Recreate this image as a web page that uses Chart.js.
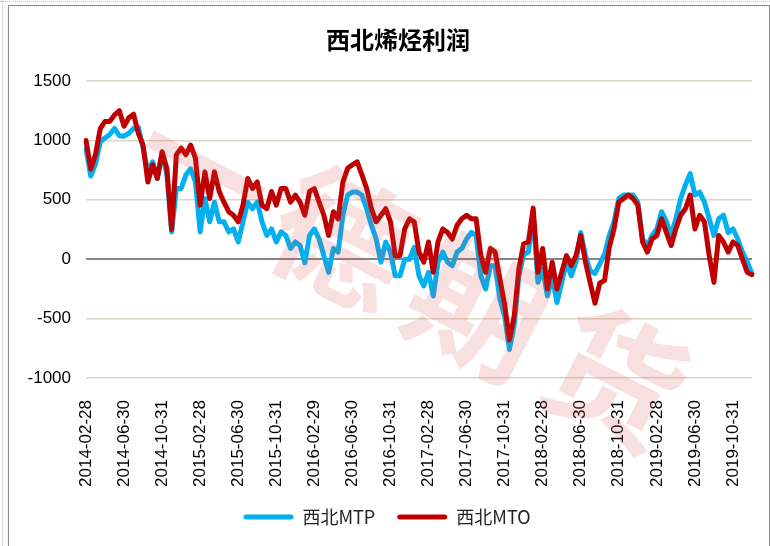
<!DOCTYPE html>
<html>
<head>
<meta charset="utf-8">
<script src="https://cdn.jsdelivr.net/npm/chart.js@4.4.0/dist/chart.umd.min.js"></script>
<style>
    html, body { margin: 0; padding: 0; background: #fff; }
    #wrap { position: absolute; left: 0; top: 0; width: 770px; height: 546px; }
    #frame { position: absolute; left: 8px; top: 5px; width: 762px; height: 541px; box-sizing: border-box;
             border-left: 1px solid #8a8a8a; border-top: 1px solid #8a8a8a; border-right: 1px solid #8a8a8a; pointer-events: none; }
    #dotsTop { position: absolute; left: 0; top: 1px; width: 770px; border-top: 1px dotted #c4c4c4; }
    #dotsLeft { position: absolute; left: 2px; top: 0; height: 546px; border-left: 1px dotted #c4c4c4; }
</style>
</head>
<body>
<div id="dotsTop"></div>
<div id="dotsLeft"></div>
<div id="wrap"><canvas id="chart"></canvas></div>
<div id="frame"></div>
<script>
// half-month points from 2014-02-28 to 2019-12-31 (month end, mid month, month end ...)
const startYear = 2014;
const startMonth = 1; // February, 0-based
const pointCount = 141;

const chartTitle = '西北烯烃利润';

const tickLabels = [
    '2014-02-28', '2014-06-30', '2014-10-31', '2015-02-28', '2015-06-30', '2015-10-31',
    '2016-02-29', '2016-06-30', '2016-10-31', '2017-02-28', '2017-06-30', '2017-10-31',
    '2018-02-28', '2018-06-30', '2018-10-31', '2019-02-28', '2019-06-30', '2019-10-31'
];

// 西北MTP
const mtp = [
    930, 700, 800, 990, 1020, 1050, 1100, 1040, 1035, 1060,
    1100, 1110, 935, 735, 820, 680, 890, 710, 230, 595,
    595, 710, 760, 650, 230, 510, 315, 480, 315, 315,
    230, 255, 145, 315, 480, 425, 480, 315, 200, 255,
    145, 230, 200, 90, 145, 115, -30, 200, 255, 170,
    30, -110, 90, 60, 370, 540, 565, 565, 540, 425,
    285, 170, -25, 145, 60, -140, -140, 0, 0, 100,
    -140, -225, -110, -310, -25, 60, -25, -55, 60, 90,
    170, 225, 200, -140, -250, -55, -55, -335, -480, -760,
    -560, -140, 40, 60, 380, -195, -80, -310, -140, -365,
    -195, -25, -140, -25, 225, 30, -100, -120, -40, 40,
    200, 315, 510, 540, 540, 540, 480, 170, 115, 200,
    255, 400, 315, 200, 340, 510, 625, 720, 540, 565,
    480, 340, 200, 340, 370, 225, 255, 170, 60, -25,
    -120
];

// 西北MTO
const mto = [
    1000, 760, 880, 1100, 1160, 1160, 1215, 1250, 1120, 1190,
    1220, 1060, 960, 650, 795, 680, 905, 765, 250, 880,
    935, 880, 960, 850, 455, 735, 510, 735, 570, 480,
    400, 370, 315, 455, 680, 595, 650, 455, 425, 570,
    455, 595, 595, 480, 540, 480, 370, 570, 595, 480,
    370, 200, 400, 340, 650, 765, 795, 820, 710, 595,
    425, 315, 370, 425, 315, 30, 30, 255, 340, 315,
    60, -25, 145, -110, 145, 255, 225, 170, 285, 340,
    370, 340, 340, 30, -110, 90, 60, -165, -380, -680,
    -480, -80, 130, 145, 430, -110, 90, -250, -25, -250,
    -110, 30, -55, 30, 200, -25, -200, -370, -200, -180,
    100, 255, 480, 510, 540, 510, 455, 145, 60, 170,
    200, 340, 225, 115, 255, 370, 425, 540, 255, 370,
    315, 30, -195, 200, 145, 60, 145, 115, 0, -110,
    -130
];

const watermarkChars = ['一', '德', '期', '货'];

function pad(n) { return String(n).padStart(2, '0'); }

function buildDates() {
    const out = [];
    for (let k = 0; k < pointCount; k++) {
        const mo = startMonth + Math.ceil(k / 2);
        const d = new Date(Date.UTC(startYear, mo, 1));
        const y = d.getUTCFullYear();
        const m = d.getUTCMonth();
        const day = k % 2 === 0 ? new Date(Date.UTC(y, m + 1, 0)).getUTCDate() : 15;
        out.push(y + '-' + pad(m + 1) + '-' + pad(day));
    }
    return out;
}
const dates = buildDates();

// title drawn by hand so it can sit over the whole chart frame, not just the padded box
const titlePlugin = {
    id: 'frameTitle',
    afterDraw(chart) {
        const ctx = chart.ctx;
        ctx.save();
        ctx.font = 'bold 24px "Noto Sans CJK SC"';
        ctx.fillStyle = '#000';
        ctx.textAlign = 'center';
        ctx.textBaseline = 'middle';
        ctx.fillText(chartTitle, 398, 40);
        ctx.restore();
    }
};

const watermark = {
    id: 'watermark',
    afterDraw(chart) {
        const ctx = chart.ctx;
        ctx.save();
        ctx.font = 'bold 135px "Noto Sans CJK SC"';
        ctx.fillStyle = 'rgba(214, 70, 70, 0.17)';
        ctx.textAlign = 'center';
        ctx.textBaseline = 'middle';
        watermarkChars.forEach((ch, i) => {
            ctx.save();
            ctx.translate(205 + i * 137, 168 + i * 70);
            ctx.rotate(27 * Math.PI / 180);
            ctx.fillText(ch, 0, 0);
            ctx.restore();
        });
        ctx.restore();
    }
};

const tickFont = { family: 'Liberation Sans', size: 17 };

new Chart(document.getElementById('chart'), {
    type: 'line',
    data: {
        labels: dates,
        datasets: [{
            label: '西北MTP',
            data: mtp,
            borderColor: '#00B0F0',
            backgroundColor: '#00B0F0',
            borderWidth: 5,
            pointRadius: 0,
            borderJoinStyle: 'round',
            borderCapStyle: 'round',
            order: 1
        }, {
            label: '西北MTO',
            data: mto,
            borderColor: '#C00000',
            backgroundColor: '#C00000',
            borderWidth: 5,
            pointRadius: 0,
            borderJoinStyle: 'round',
            borderCapStyle: 'round',
            order: 0
        }]
    },
    options: {
        responsive: true,
        maintainAspectRatio: false,
        animation: false,
        layout: { padding: { left: 22, right: 18, top: 81, bottom: 10 } },
        plugins: {
            title: { display: false },
            legend: {
                position: 'bottom',
                labels: {
                    color: '#222',
                    font: { family: 'Noto Sans CJK SC', size: 18 },
                    boxWidth: 50,
                    boxHeight: 5,
                    padding: 22,
                    useBorderRadius: true,
                    borderRadius: 2.5,
                    sort: (a, b) => a.datasetIndex - b.datasetIndex,
                    generateLabels: chart => Chart.defaults.plugins.legend.labels.generateLabels(chart)
                        .map(item => ({ ...item, lineWidth: 0 }))
                }
            },
            tooltip: { enabled: false }
        },
        scales: {
            x: {
                ticks: {
                    autoSkip: false,
                    maxRotation: 90,
                    minRotation: 90,
                    padding: 14,
                    color: '#000',
                    font: tickFont,
                    callback(value) {
                        const label = this.getLabelForValue(value);
                        return tickLabels.includes(label) ? label : null;
                    }
                },
                grid: { display: false },
                border: { display: false },
                afterFit: scale => { scale.height = 108; }
            },
            y: {
                min: -1000,
                max: 1500,
                ticks: { stepSize: 500, padding: 15, color: '#000', font: tickFont, callback: v => String(v) },
                grid: {
                    drawTicks: false,
                    color: ctx => ctx.tick.value === 0 ? '#868686' : '#dcd6c4',
                    lineWidth: ctx => ctx.tick.value === 0 ? 2 : 1.5
                },
                border: { display: false },
                afterFit: scale => { scale.width = 64; }
            }
        }
    },
    plugins: [titlePlugin, watermark]
});
</script>
</body>
</html>
